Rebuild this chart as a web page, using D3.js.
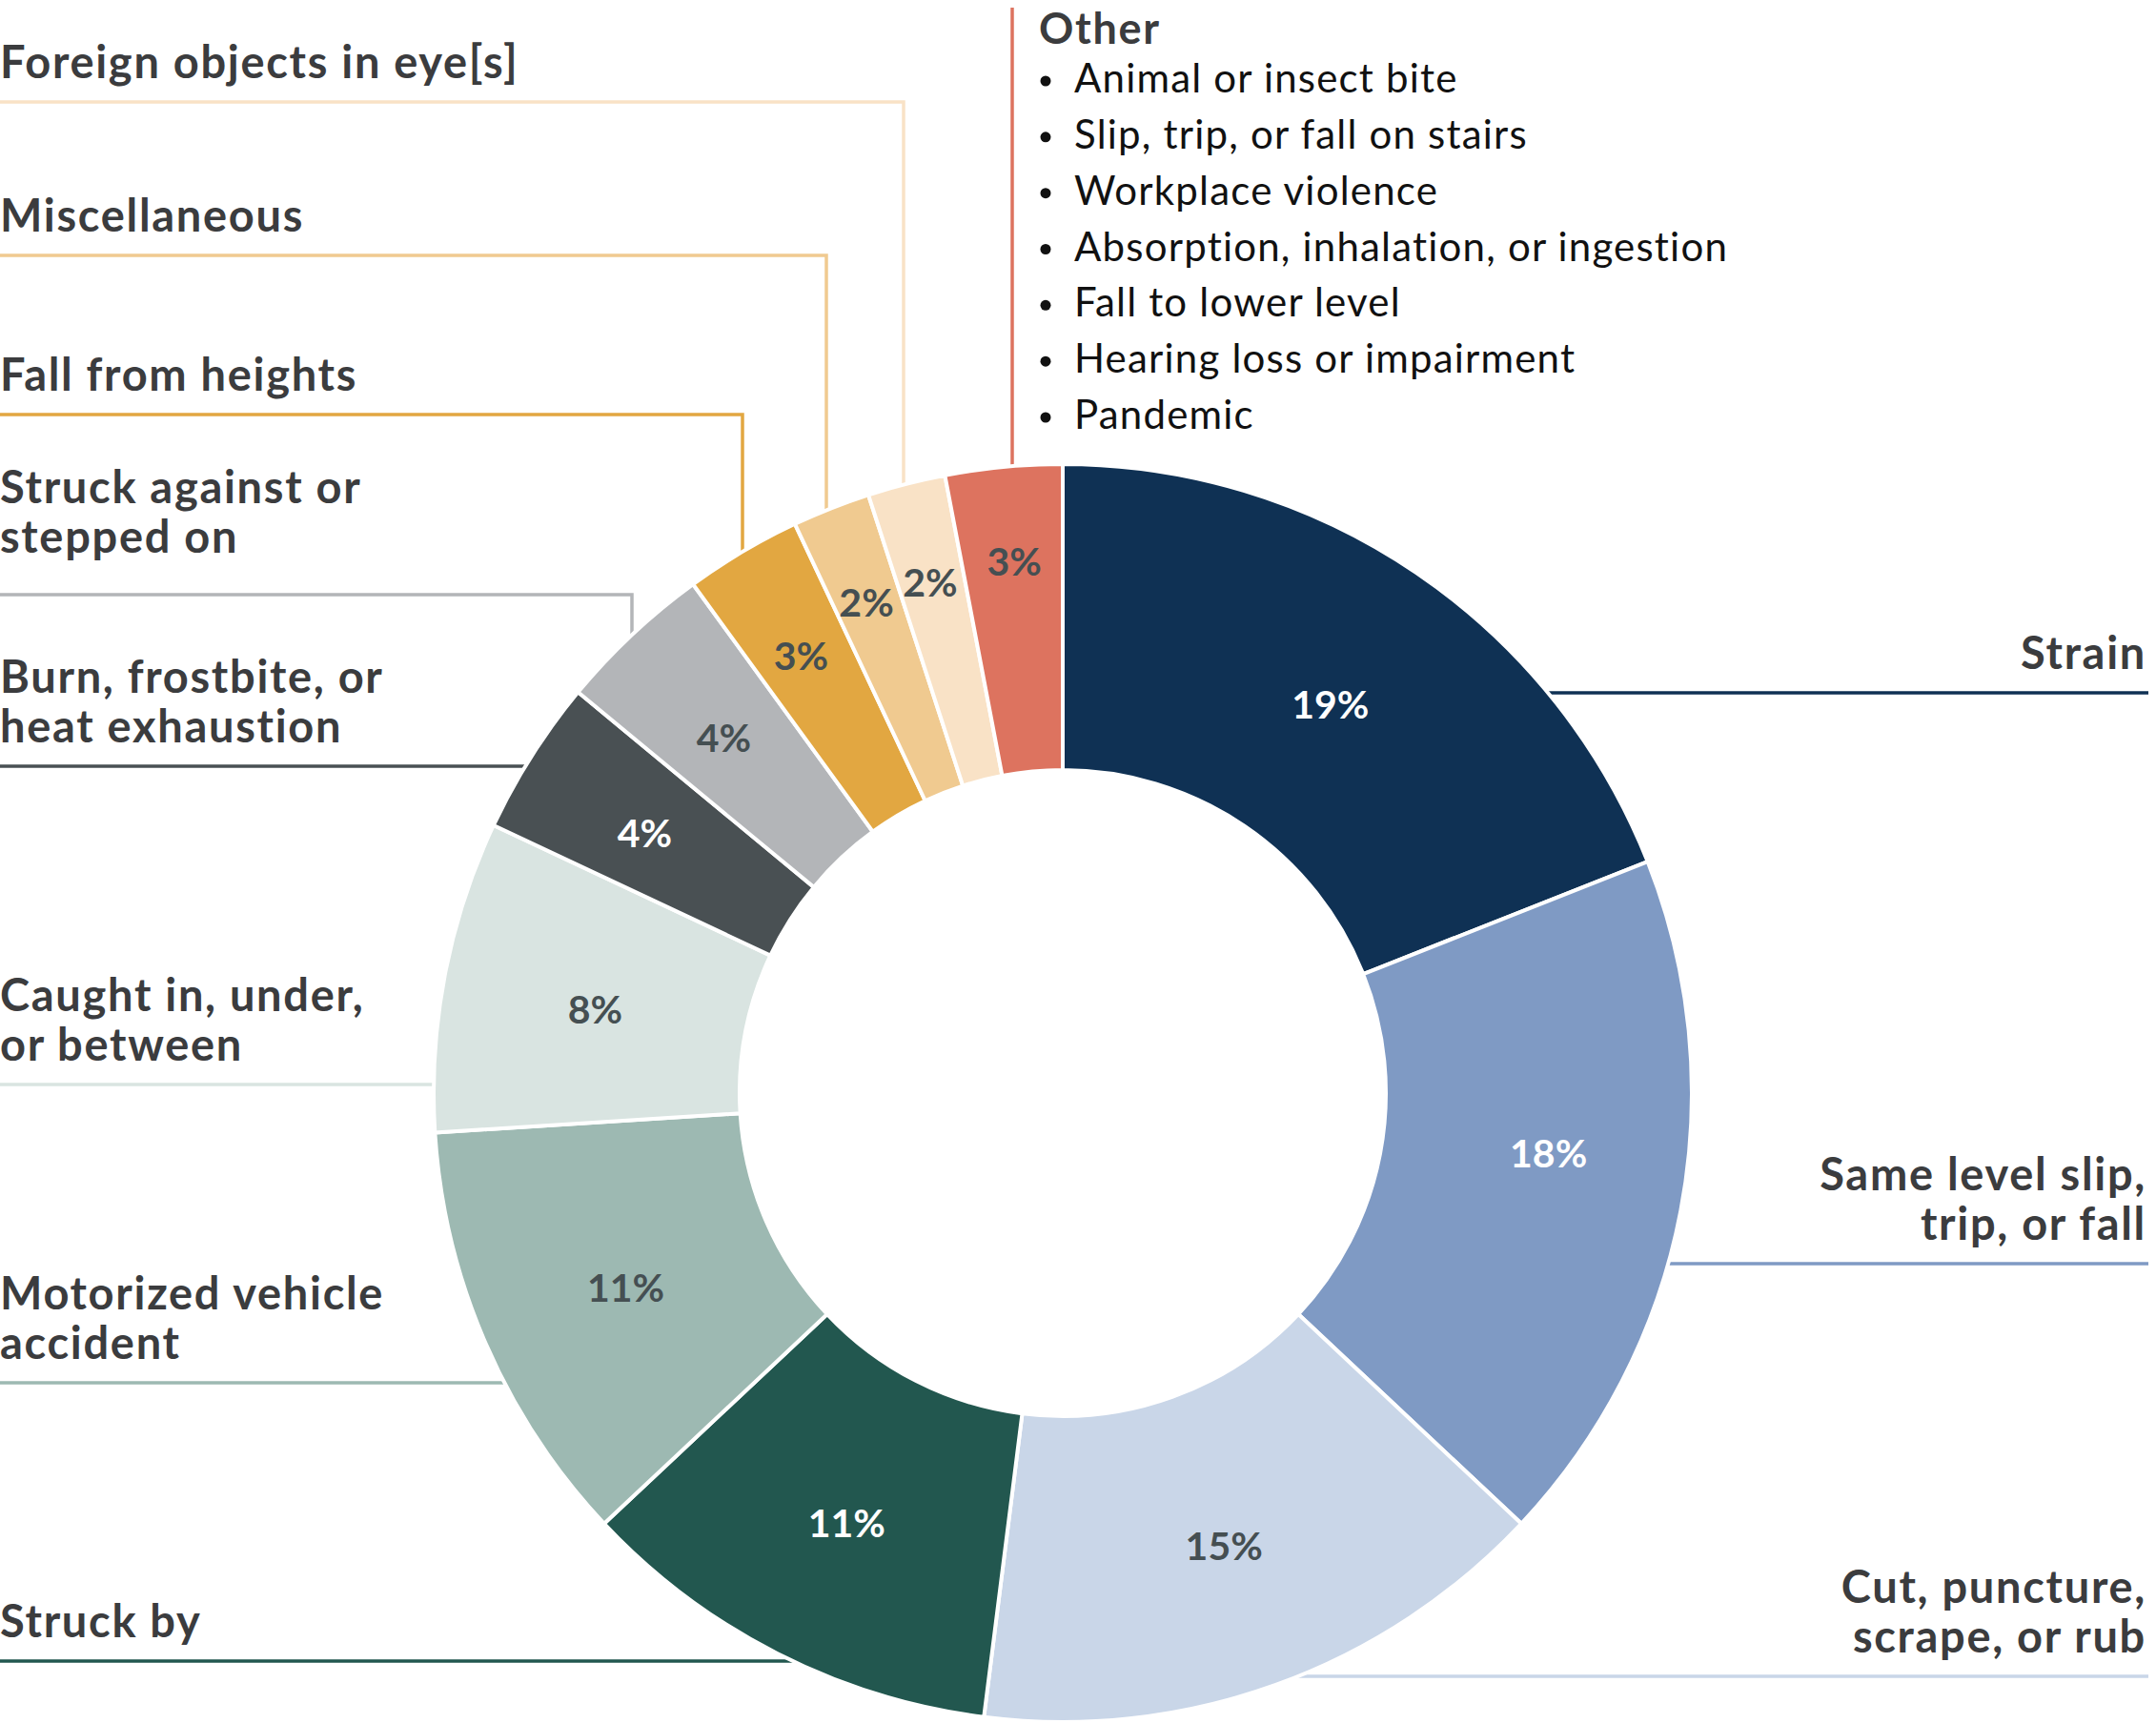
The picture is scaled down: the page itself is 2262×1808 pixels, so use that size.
<!DOCTYPE html>
<html>
<head>
<meta charset="utf-8">
<script src="https://cdn.jsdelivr.net/npm/d3@7"></script>
<style>
  body { margin: 0; background: #fff; }
  svg { display: block; }
  .label { font-family: Lato, "Open Sans", sans-serif; font-weight: 700; fill: #3b3c3e; letter-spacing: 1.7px; }
  .pct { font-family: Lato, "Open Sans", sans-serif; font-weight: 700; }
  .item { font-family: Lato, "Open Sans", sans-serif; font-weight: 400; fill: #111; letter-spacing: 1.2px; }
</style>
</head>
<body>
<svg id="chart"></svg>
<script>
// data, clockwise from 12 o'clock
const categories = [
  "Strain", "Same level slip, trip, or fall", "Cut, puncture, scrape, or rub",
  "Struck by", "Motorized vehicle accident", "Caught in, under, or between",
  "Burn, frostbite, or heat exhaustion", "Struck against or stepped on",
  "Fall from heights", "Miscellaneous", "Foreign objects in eye[s]", "Other"
];
const values = [19, 18, 15, 11, 11, 8, 4, 4, 3, 2, 2, 3];
const colors = [
  "#0f3154", "#7f9ac4", "#c9d6e8", "#22574f", "#9db9b2", "#d9e4e1",
  "#495053", "#b3b5b8", "#e2a741", "#f0ca90", "#f9e2c6", "#dd735f"
];
const labelLines = [
  ["Strain"], ["Same level slip,", "trip, or fall"], ["Cut, puncture,", "scrape, or rub"],
  ["Struck by"], ["Motorized vehicle", "accident"], ["Caught in, under,", "or between"],
  ["Burn, frostbite, or", "heat exhaustion"], ["Struck against or", "stepped on"],
  ["Fall from heights"], ["Miscellaneous"], ["Foreign objects in eye[s]"], ["Other"]
];
const otherItems = [
  "Animal or insect bite", "Slip, trip, or fall on stairs", "Workplace violence",
  "Absorption, inhalation, or ingestion", "Fall to lower level",
  "Hearing loss or impairment", "Pandemic"
];
const whiteText = new Set(["Strain", "Same level slip, trip, or fall", "Struck by",
  "Burn, frostbite, or heat exhaustion"]);

// layout of leader lines (horizontal y, optional elbow x)
const leaders = [
  { side: "right", y: 727 }, { side: "right", y: 1326 }, { side: "right", y: 1759 },
  { side: "left", y: 1743 }, { side: "left", y: 1451 }, { side: "left", y: 1138 },
  { side: "left", y: 804 }, { side: "left", y: 624, x: 663, lift: 19 },
  { side: "left", y: 435, x: 779 }, { side: "left", y: 268, x: 867 },
  { side: "left", y: 107, x: 948 }, { side: "top", x: 1062, y: 8 }
];
// hand nudges of a few percentage labels, like the original
const pctNudge = { "Same level slip, trip, or fall": [19, -36], "Other": [0, -26] };

const dimensions = { width: 2262, height: 1808, cx: 1115, cy: 1147, outer: 660, inner: 339 };
const rightEdge = 2254;
const lineHeight = 52;
const gap = 25;

const data = categories.map((c, i) => ({ name: c, value: values[i], color: colors[i], lines: labelLines[i], leader: leaders[i] }));

const svg = d3.select("#chart")
  .attr("width", dimensions.width)
  .attr("height", dimensions.height);

const { cx, cy, outer, inner } = dimensions;
const onCircleX = y => Math.sqrt(outer * outer - (y - cy) * (y - cy));
const onCircleY = x => Math.sqrt(outer * outer - (x - cx) * (x - cx));

// leader lines
const leaderG = svg.append("g").attr("fill", "none").attr("stroke-width", 3.5);
data.forEach(d => {
  const L = d.leader;
  let pts;
  if (L.side === "right") {
    pts = [[rightEdge, L.y], [cx + onCircleX(L.y) - 2, L.y]];
  } else if (L.side === "top") {
    pts = [[L.x, L.y], [L.x, cy - onCircleY(L.x) + 2]];
  } else if (L.x != null) {
    pts = [[0, L.y], [L.x, L.y], [L.x, cy - onCircleY(L.x) + 2]];
  } else {
    pts = [[0, L.y], [cx - onCircleX(L.y) + 2, L.y]];
  }
  leaderG.append("path").attr("d", d3.line()(pts)).attr("stroke", d.color);
});

// donut
const pie = d3.pie().sort(null).value(d => d.value);
const arcs = pie(data);
const arc = d3.arc().innerRadius(inner).outerRadius(outer);
const bounds = svg.append("g").attr("transform", `translate(${cx},${cy})`);

bounds.selectAll(".slice")
  .data(arcs)
  .join("path")
  .attr("class", "slice")
  .attr("d", arc)
  .attr("fill", d => d.data.color)
  .attr("stroke", "#fff")
  .attr("stroke-width", 4)
  .attr("stroke-linejoin", "round");

// percentage labels, narrow slices pushed outward
const mid = (inner + outer) / 2;
bounds.selectAll(".pct")
  .data(arcs)
  .join("text")
  .attr("class", "pct")
  .attr("transform", d => {
    const a = (d.startAngle + d.endAngle) / 2;
    const v = d.data.value;
    const r = mid + (v < 5 ? (5 - v) * 20 : 0);
    const [nx, ny] = pctNudge[d.data.name] || [0, 0];
    return `translate(${r * Math.sin(a) + nx},${-r * Math.cos(a) + ny})`;
  })
  .attr("text-anchor", "middle")
  .attr("dy", "0.5em")
  .attr("font-size", 41)
  .attr("fill", d => whiteText.has(d.data.name) ? "#fff" : "#454f52")
  .text(d => d3.format(".0f")(d.data.value) + "%");

// category labels
data.forEach(d => {
  const L = d.leader;
  if (L.side === "top") return;
  const n = d.lines.length;
  const t = svg.append("text")
    .attr("class", "label")
    .attr("font-size", 47)
    .attr("text-anchor", L.side === "right" ? "end" : "start");
  d.lines.forEach((line, i) => {
    t.append("tspan")
      .attr("x", L.side === "right" ? rightEdge - 2 : 0)
      .attr("y", L.y - gap - (L.lift || 0) - (n - 1 - i) * lineHeight)
      .text(line);
  });
});

// "Other" block
const other = data[data.length - 1];
const otherG = svg.append("g").attr("transform", `translate(${other.leader.x},0)`);
otherG.append("text")
  .attr("class", "label")
  .attr("font-size", 45)
  .attr("x", 28)
  .attr("y", 46)
  .text(other.lines[0]);

const itemY = d3.scalePoint().domain(otherItems).range([97, 450]);
const items = otherG.selectAll(".item")
  .data(otherItems)
  .join("g")
  .attr("class", "item")
  .attr("transform", d => `translate(0,${itemY(d)})`);
items.append("circle").attr("cx", 35).attr("cy", -12).attr("r", 5.5).attr("fill", "#111");
items.append("text").attr("x", 65).attr("font-size", 42).text(d => d);
</script>
</body>
</html>
